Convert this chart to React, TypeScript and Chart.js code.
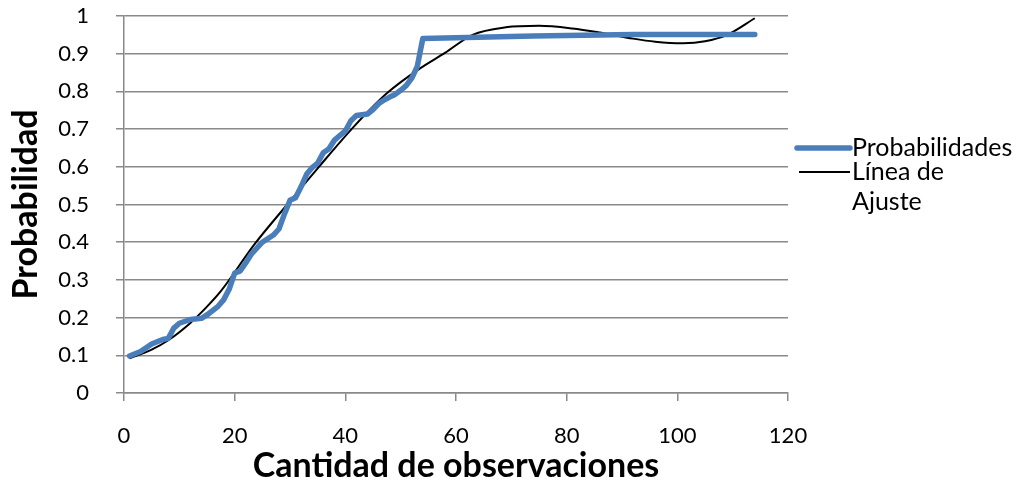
import React, { useEffect, useRef } from "react";
import { Chart, registerables } from "chart.js";

Chart.register(...registerables);

// Blue series: observed probabilities
const probX = [1, 3, 5, 7, 8, 9, 10, 12, 14, 15, 17, 18, 19, 20, 21, 22, 23, 25, 27, 28, 29, 30, 31, 32, 33, 34, 35, 36, 37, 38, 39, 40, 41, 42, 44, 45, 46, 47, 48, 49, 50, 51, 52, 53, 54, 74, 92, 114];
const probY = [0.098, 0.110, 0.130, 0.142, 0.145, 0.172, 0.185, 0.195, 0.198, 0.207, 0.230, 0.247, 0.275, 0.318, 0.324, 0.345, 0.368, 0.400, 0.419, 0.435, 0.475, 0.511, 0.518, 0.547, 0.580, 0.598, 0.610, 0.637, 0.647, 0.670, 0.683, 0.695, 0.722, 0.736, 0.740, 0.752, 0.767, 0.777, 0.785, 0.792, 0.803, 0.815, 0.835, 0.866, 0.940, 0.947, 0.951, 0.951];

// Black series: fitted trend line
const fitX = [1, 5, 8, 12, 15, 17.5, 23.5, 29.5, 35, 41.5, 47.5, 53.5, 58, 63, 69, 75, 81, 86, 92, 96, 101, 105, 109, 114];
const fitY = [0.092, 0.115, 0.140, 0.186, 0.229, 0.270, 0.393, 0.500, 0.596, 0.706, 0.795, 0.861, 0.902, 0.950, 0.970, 0.974, 0.967, 0.956, 0.940, 0.932, 0.928, 0.933, 0.950, 0.994];

const yTickLabels = ["0", "0.1", "0.2", "0.3", "0.4", "0.5", "0.6", "0.7", "0.8", "0.9", "1"];
const xTickLabels = ["0", "20", "40", "60", "80", "100", "120"];

const seriesLabels = ["Probabilidades", "Línea de Ajuste"];
const xTitle = "Cantidad de observaciones";
const yTitle = "Probabilidad";

const FONT = "Lato, 'Open Sans', sans-serif";

const legendPlugin = {
  id: "sideLegend",
  afterDraw(chart: any) {
    const ctx = chart.ctx;
    const area = chart.chartArea;
    const x0 = area.right + 9;
    const lineLen = 53;
    const textX = x0 + lineLen + 2;
    const maxW = 1024 - textX - 20;
    const lineH = 30;
    let y = 148;
    ctx.save();
    ctx.font = `25px ${FONT}`;
    ctx.textBaseline = "middle";
    ctx.textAlign = "left";
    chart.data.datasets.forEach((ds: any) => {
      ctx.strokeStyle = ds.borderColor;
      ctx.lineWidth = ds.borderWidth;
      ctx.lineCap = ds.borderWidth > 3 ? "round" : "butt";
      ctx.beginPath();
      ctx.moveTo(x0 + (ds.borderWidth > 3 ? 0 : 2), y);
      ctx.lineTo(x0 + lineLen, y);
      ctx.stroke();
      // word wrap
      const words = String(ds.label).split(" ");
      const lines: string[] = [];
      let cur = "";
      words.forEach((w) => {
        const test = cur ? cur + " " + w : w;
        if (ctx.measureText(test).width > maxW && cur) {
          lines.push(cur);
          cur = w;
        } else cur = test;
      });
      if (cur) lines.push(cur);
      ctx.fillStyle = "#000";
      lines.forEach((l, i) => ctx.fillText(l, textX, y + i * lineH));
      y += 24 + (lines.length - 1) * lineH;
    });
    ctx.restore();
  },
};

export default function App() {
  const ref = useRef<HTMLCanvasElement>(null);
  useEffect(() => {
    if (!ref.current) return;
    const chart = new Chart(ref.current, {
      type: "line",
      data: {
        datasets: [
          {
            label: seriesLabels[0],
            data: probX.map((x, i) => ({ x, y: probY[i] })),
            borderColor: "#4a7ebb",
            backgroundColor: "#4a7ebb",
            borderWidth: 5.5,
            pointRadius: 0,
            tension: 0,
            borderJoinStyle: "round",
            borderCapStyle: "round",
          },
          {
            label: seriesLabels[1],
            data: fitX.map((x, i) => ({ x, y: fitY[i] })),
            borderColor: "#000000",
            backgroundColor: "#000000",
            borderWidth: 2,
            pointRadius: 0,
            cubicInterpolationMode: "monotone",
          },
        ],
      },
      options: {
        animation: false,
        responsive: true,
        maintainAspectRatio: false,
        layout: { padding: { top: 16, right: 236, left: 0, bottom: 0 } },
        plugins: { legend: { display: false }, tooltip: { enabled: false } },
        scales: {
          x: {
            type: "linear",
            min: 0,
            max: 120,
            ticks: {
              stepSize: 20,
              padding: 22,
              color: "#000",
              font: { family: FONT, size: 22 },
              maxRotation: 0,
              callback: (_v: any, i: number) => xTickLabels[i],
            },
            grid: {
              drawOnChartArea: false,
              drawTicks: true,
              tickLength: 8,
              color: "#898989",
              lineWidth: 1.5,
            },
            border: { color: "#898989", width: 1.5 },
            title: {
              display: true,
              text: xTitle,
              color: "#000",
              font: { family: FONT, size: 34, weight: "bold" },
              padding: { top: 0, bottom: 0 },
            },
            afterFit: (s: any) => {
              s.height = 93;
              s.paddingLeft = 0;
              s.paddingRight = 0;
            },
          },
          y: {
            min: 0,
            max: 1,
            ticks: {
              stepSize: 0.1,
              padding: 27,
              color: "#000",
              font: { family: FONT, size: 22 },
              callback: (_v: any, i: number) => yTickLabels[i],
            },
            grid: {
              color: "#898989",
              lineWidth: 1.5,
              tickLength: 8,
            },
            border: { color: "#898989", width: 1.5 },
            title: {
              display: true,
              text: yTitle,
              color: "#000",
              font: { family: FONT, size: 34, weight: "bold" },
              padding: { top: 6, bottom: 0 },
            },
            afterFit: (s: any) => {
              s.width = 124;
              s.paddingTop = 0;
              s.paddingBottom = 0;
            },
          },
        },
      },
      plugins: [legendPlugin],
    } as any);
    return () => chart.destroy();
  }, []);
  return (
    <div style={{ position: "fixed", left: 0, top: 0, width: 1024, height: 486, background: "#fff" }}>
      <canvas ref={ref} />
    </div>
  );
}
